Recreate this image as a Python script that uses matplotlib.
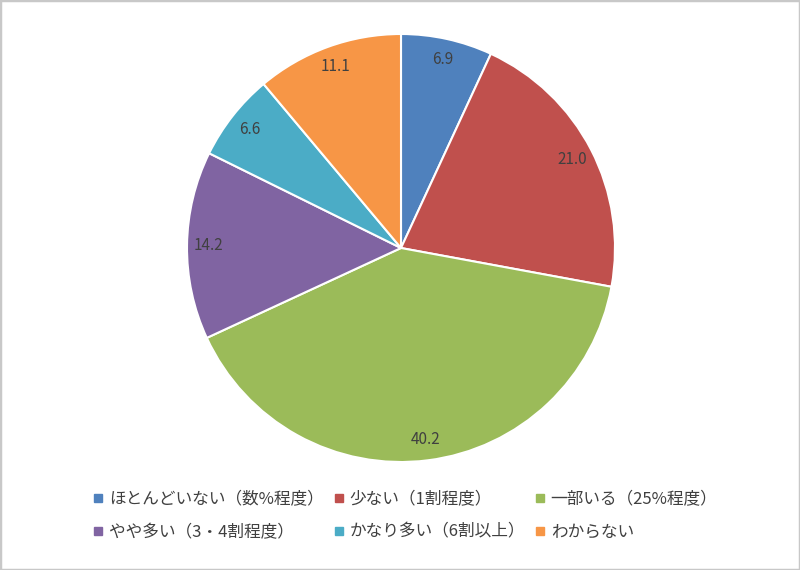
import matplotlib
matplotlib.use("Agg")
import matplotlib.pyplot as plt
from matplotlib.lines import Line2D
from matplotlib.patches import Rectangle

plt.rcParams['font.family'] = ['Noto Sans CJK JP', 'DejaVu Sans']

categories = ['ほとんどいない（数%程度）', '少ない（1割程度）', '一部いる（25%程度）',
              'やや多い（3・4割程度）', 'かなり多い（6割以上）', 'わからない']
values = [6.9, 21.0, 40.2, 14.2, 6.6, 11.1]
colors = ['#4F81BD', '#C0504D', '#9BBB59', '#8064A2', '#4BACC6', '#F79646']

fig = plt.figure(figsize=(8, 5.7), dpi=100)

# pie centre ~ (401, 248) px from top, radius ~214 px
r_px = 214
cx, cy = 401, 570 - 248
ax = fig.add_axes([(cx - r_px) / 800, (cy - r_px) / 570, 2 * r_px / 800, 2 * r_px / 570])

wedges, texts, autotexts = ax.pie(
    values, colors=colors, startangle=90, counterclock=False,
    autopct='%.1f', pctdistance=0.9,
    wedgeprops=dict(edgecolor='white', linewidth=1.5),
    textprops=dict(color='#404040', fontsize=11))
ax.set_xlim(-1, 1)
ax.set_ylim(-1, 1)
ax.set_aspect('equal')

# legend filled row by row (matplotlib fills columns first)
handles = [Line2D([], [], marker='s', linestyle='', color=c, markersize=5.5) for c in colors]
order = [0, 3, 1, 4, 2, 5]
fig.legend([handles[i] for i in order], [categories[i] for i in order],
           ncol=3, loc='upper left', bbox_to_anchor=(93 / 800, 1 - 491 / 570),
           frameon=False, fontsize=12, labelcolor='#404040',
           handlelength=0.6, handletextpad=0.35, columnspacing=0.6,
           labelspacing=0.95, borderaxespad=0, borderpad=0)

# light grey border around the picture
fig.patches.append(Rectangle((0, 0), 1, 1, transform=fig.transFigure, fill=False,
                             edgecolor='#c8c8c8', linewidth=2.5))

fig.savefig('out.png', dpi=100)
